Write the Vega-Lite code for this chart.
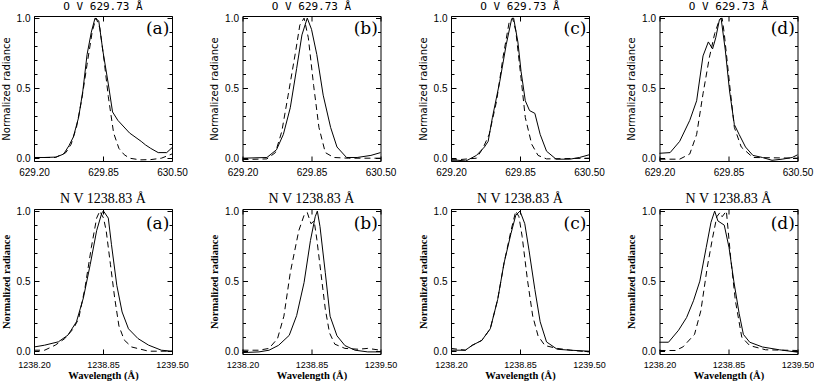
{
"$schema": "https://vega.github.io/schema/vega-lite/v6.json",
"background": "white",
"padding": {"left": 0, "top": 1, "right": 0, "bottom": 0},
"datasets": {
"ov": [
{"panel":"(a)","kind":"obs","x":629.20,"y":0.005},{"panel":"(a)","kind":"obs","x":629.30,"y":0.005},{"panel":"(a)","kind":"obs","x":629.41,"y":0.008},{"panel":"(a)","kind":"obs","x":629.48,"y":0.03},{"panel":"(a)","kind":"obs","x":629.53,"y":0.09},{"panel":"(a)","kind":"obs","x":629.57,"y":0.15},{"panel":"(a)","kind":"obs","x":629.62,"y":0.29},{"panel":"(a)","kind":"obs","x":629.66,"y":0.48},{"panel":"(a)","kind":"obs","x":629.70,"y":0.74},{"panel":"(a)","kind":"obs","x":629.74,"y":0.90},{"panel":"(a)","kind":"obs","x":629.775,"y":1.0},{"panel":"(a)","kind":"obs","x":629.81,"y":0.98},{"panel":"(a)","kind":"obs","x":629.85,"y":0.76},{"panel":"(a)","kind":"obs","x":629.90,"y":0.53},{"panel":"(a)","kind":"obs","x":629.94,"y":0.33},{"panel":"(a)","kind":"obs","x":629.99,"y":0.27},{"panel":"(a)","kind":"obs","x":630.10,"y":0.18},{"panel":"(a)","kind":"obs","x":630.21,"y":0.12},{"panel":"(a)","kind":"obs","x":630.25,"y":0.095},{"panel":"(a)","kind":"obs","x":630.30,"y":0.07},{"panel":"(a)","kind":"obs","x":630.37,"y":0.04},{"panel":"(a)","kind":"obs","x":630.45,"y":0.04},{"panel":"(a)","kind":"obs","x":630.50,"y":0.075},
{"panel":"(a)","kind":"ref","x":629.20,"y":0.005},{"panel":"(a)","kind":"ref","x":629.40,"y":0.005},{"panel":"(a)","kind":"ref","x":629.50,"y":0.04},{"panel":"(a)","kind":"ref","x":629.55,"y":0.10},{"panel":"(a)","kind":"ref","x":629.60,"y":0.22},{"panel":"(a)","kind":"ref","x":629.65,"y":0.42},{"panel":"(a)","kind":"ref","x":629.70,"y":0.67},{"panel":"(a)","kind":"ref","x":629.75,"y":0.91},{"panel":"(a)","kind":"ref","x":629.785,"y":1.0},{"panel":"(a)","kind":"ref","x":629.82,"y":0.93},{"panel":"(a)","kind":"ref","x":629.86,"y":0.70},{"panel":"(a)","kind":"ref","x":629.90,"y":0.44},{"panel":"(a)","kind":"ref","x":629.95,"y":0.18},{"panel":"(a)","kind":"ref","x":630.00,"y":0.07},{"panel":"(a)","kind":"ref","x":630.05,"y":0.025},{"panel":"(a)","kind":"ref","x":630.10,"y":0.0},{"panel":"(a)","kind":"ref","x":630.20,"y":-0.012},{"panel":"(a)","kind":"ref","x":630.30,"y":-0.01},{"panel":"(a)","kind":"ref","x":630.40,"y":0.0},{"panel":"(a)","kind":"ref","x":630.50,"y":0.03},
{"panel":"(b)","kind":"obs","x":629.20,"y":0.0},{"panel":"(b)","kind":"obs","x":629.43,"y":0.005},{"panel":"(b)","kind":"obs","x":629.52,"y":0.06},{"panel":"(b)","kind":"obs","x":629.585,"y":0.17},{"panel":"(b)","kind":"obs","x":629.65,"y":0.36},{"panel":"(b)","kind":"obs","x":629.71,"y":0.64},{"panel":"(b)","kind":"obs","x":629.76,"y":0.88},{"panel":"(b)","kind":"obs","x":629.81,"y":1.0},{"panel":"(b)","kind":"obs","x":629.85,"y":0.92},{"panel":"(b)","kind":"obs","x":629.90,"y":0.74},{"panel":"(b)","kind":"obs","x":629.96,"y":0.45},{"panel":"(b)","kind":"obs","x":630.03,"y":0.22},{"panel":"(b)","kind":"obs","x":630.09,"y":0.08},{"panel":"(b)","kind":"obs","x":630.18,"y":0.005},{"panel":"(b)","kind":"obs","x":630.28,"y":0.005},{"panel":"(b)","kind":"obs","x":630.41,"y":0.02},{"panel":"(b)","kind":"obs","x":630.50,"y":0.04},
{"panel":"(b)","kind":"ref","x":629.20,"y":-0.01},{"panel":"(b)","kind":"ref","x":629.43,"y":-0.005},{"panel":"(b)","kind":"ref","x":629.51,"y":0.04},{"panel":"(b)","kind":"ref","x":629.57,"y":0.19},{"panel":"(b)","kind":"ref","x":629.63,"y":0.45},{"panel":"(b)","kind":"ref","x":629.70,"y":0.76},{"panel":"(b)","kind":"ref","x":629.74,"y":0.95},{"panel":"(b)","kind":"ref","x":629.78,"y":1.0},{"panel":"(b)","kind":"ref","x":629.82,"y":0.86},{"panel":"(b)","kind":"ref","x":629.87,"y":0.52},{"panel":"(b)","kind":"ref","x":629.92,"y":0.22},{"panel":"(b)","kind":"ref","x":629.98,"y":0.04},{"panel":"(b)","kind":"ref","x":630.06,"y":0.005},{"panel":"(b)","kind":"ref","x":630.20,"y":0.0},{"panel":"(b)","kind":"ref","x":630.50,"y":0.0},
{"panel":"(c)","kind":"obs","x":629.20,"y":-0.01},{"panel":"(c)","kind":"obs","x":629.34,"y":-0.02},{"panel":"(c)","kind":"obs","x":629.44,"y":0.02},{"panel":"(c)","kind":"obs","x":629.515,"y":0.08},{"panel":"(c)","kind":"obs","x":629.55,"y":0.12},{"panel":"(c)","kind":"obs","x":629.59,"y":0.29},{"panel":"(c)","kind":"obs","x":629.66,"y":0.55},{"panel":"(c)","kind":"obs","x":629.72,"y":0.81},{"panel":"(c)","kind":"obs","x":629.77,"y":0.99},{"panel":"(c)","kind":"obs","x":629.79,"y":1.0},{"panel":"(c)","kind":"obs","x":629.83,"y":0.83},{"panel":"(c)","kind":"obs","x":629.86,"y":0.62},{"panel":"(c)","kind":"obs","x":629.90,"y":0.41},{"panel":"(c)","kind":"obs","x":629.94,"y":0.34},{"panel":"(c)","kind":"obs","x":629.99,"y":0.32},{"panel":"(c)","kind":"obs","x":630.04,"y":0.17},{"panel":"(c)","kind":"obs","x":630.10,"y":0.05},{"panel":"(c)","kind":"obs","x":630.19,"y":-0.007},{"panel":"(c)","kind":"obs","x":630.32,"y":-0.007},{"panel":"(c)","kind":"obs","x":630.41,"y":0.005},{"panel":"(c)","kind":"obs","x":630.50,"y":0.024},
{"panel":"(c)","kind":"ref","x":629.20,"y":-0.015},{"panel":"(c)","kind":"ref","x":629.44,"y":0.0},{"panel":"(c)","kind":"ref","x":629.50,"y":0.07},{"panel":"(c)","kind":"ref","x":629.56,"y":0.17},{"panel":"(c)","kind":"ref","x":629.63,"y":0.41},{"panel":"(c)","kind":"ref","x":629.69,"y":0.72},{"panel":"(c)","kind":"ref","x":629.75,"y":0.98},{"panel":"(c)","kind":"ref","x":629.78,"y":1.0},{"panel":"(c)","kind":"ref","x":629.81,"y":0.91},{"panel":"(c)","kind":"ref","x":629.86,"y":0.57},{"panel":"(c)","kind":"ref","x":629.90,"y":0.29},{"panel":"(c)","kind":"ref","x":629.96,"y":0.10},{"panel":"(c)","kind":"ref","x":630.02,"y":0.02},{"panel":"(c)","kind":"ref","x":630.10,"y":-0.005},{"panel":"(c)","kind":"ref","x":630.50,"y":0.0},
{"panel":"(d)","kind":"obs","x":629.20,"y":0.035},{"panel":"(d)","kind":"obs","x":629.30,"y":0.04},{"panel":"(d)","kind":"obs","x":629.39,"y":0.12},{"panel":"(d)","kind":"obs","x":629.485,"y":0.27},{"panel":"(d)","kind":"obs","x":629.55,"y":0.41},{"panel":"(d)","kind":"obs","x":629.61,"y":0.73},{"panel":"(d)","kind":"obs","x":629.66,"y":0.83},{"panel":"(d)","kind":"obs","x":629.70,"y":0.78},{"panel":"(d)","kind":"obs","x":629.73,"y":0.86},{"panel":"(d)","kind":"obs","x":629.765,"y":0.99},{"panel":"(d)","kind":"obs","x":629.78,"y":1.0},{"panel":"(d)","kind":"obs","x":629.82,"y":0.77},{"panel":"(d)","kind":"obs","x":629.86,"y":0.48},{"panel":"(d)","kind":"obs","x":629.905,"y":0.24},{"panel":"(d)","kind":"obs","x":629.95,"y":0.17},{"panel":"(d)","kind":"obs","x":630.01,"y":0.08},{"panel":"(d)","kind":"obs","x":630.08,"y":0.02},{"panel":"(d)","kind":"obs","x":630.17,"y":0.005},{"panel":"(d)","kind":"obs","x":630.26,"y":-0.015},{"panel":"(d)","kind":"obs","x":630.355,"y":-0.007},{"panel":"(d)","kind":"obs","x":630.45,"y":0.005},{"panel":"(d)","kind":"obs","x":630.50,"y":0.024},
{"panel":"(d)","kind":"ref","x":629.20,"y":-0.007},{"panel":"(d)","kind":"ref","x":629.39,"y":-0.007},{"panel":"(d)","kind":"ref","x":629.485,"y":0.03},{"panel":"(d)","kind":"ref","x":629.55,"y":0.17},{"panel":"(d)","kind":"ref","x":629.61,"y":0.46},{"panel":"(d)","kind":"ref","x":629.67,"y":0.72},{"panel":"(d)","kind":"ref","x":629.72,"y":0.89},{"panel":"(d)","kind":"ref","x":629.765,"y":0.99},{"panel":"(d)","kind":"ref","x":629.79,"y":1.0},{"panel":"(d)","kind":"ref","x":629.81,"y":0.89},{"panel":"(d)","kind":"ref","x":629.86,"y":0.53},{"panel":"(d)","kind":"ref","x":629.905,"y":0.22},{"panel":"(d)","kind":"ref","x":629.97,"y":0.08},{"panel":"(d)","kind":"ref","x":630.08,"y":0.005},{"panel":"(d)","kind":"ref","x":630.50,"y":0.0}
],
"nv": [
{"panel":"(a)","kind":"obs","x":1238.20,"y":0.03},{"panel":"(a)","kind":"obs","x":1238.30,"y":0.043},{"panel":"(a)","kind":"obs","x":1238.43,"y":0.067},{"panel":"(a)","kind":"obs","x":1238.52,"y":0.115},{"panel":"(a)","kind":"obs","x":1238.60,"y":0.21},{"panel":"(a)","kind":"obs","x":1238.665,"y":0.38},{"panel":"(a)","kind":"obs","x":1238.73,"y":0.62},{"panel":"(a)","kind":"obs","x":1238.79,"y":0.86},{"panel":"(a)","kind":"obs","x":1238.84,"y":0.99},{"panel":"(a)","kind":"obs","x":1238.855,"y":1.0},{"panel":"(a)","kind":"obs","x":1238.90,"y":0.95},{"panel":"(a)","kind":"obs","x":1238.93,"y":0.76},{"panel":"(a)","kind":"obs","x":1238.98,"y":0.47},{"panel":"(a)","kind":"obs","x":1239.03,"y":0.28},{"panel":"(a)","kind":"obs","x":1239.09,"y":0.16},{"panel":"(a)","kind":"obs","x":1239.18,"y":0.09},{"panel":"(a)","kind":"obs","x":1239.28,"y":0.043},{"panel":"(a)","kind":"obs","x":1239.40,"y":0.007},{"panel":"(a)","kind":"obs","x":1239.50,"y":0.0},
{"panel":"(a)","kind":"ref","x":1238.20,"y":0.007},{"panel":"(a)","kind":"ref","x":1238.30,"y":0.007},{"panel":"(a)","kind":"ref","x":1238.40,"y":0.043},{"panel":"(a)","kind":"ref","x":1238.49,"y":0.09},{"panel":"(a)","kind":"ref","x":1238.57,"y":0.16},{"panel":"(a)","kind":"ref","x":1238.62,"y":0.23},{"panel":"(a)","kind":"ref","x":1238.68,"y":0.45},{"panel":"(a)","kind":"ref","x":1238.74,"y":0.74},{"panel":"(a)","kind":"ref","x":1238.79,"y":0.95},{"panel":"(a)","kind":"ref","x":1238.82,"y":1.0},{"panel":"(a)","kind":"ref","x":1238.855,"y":0.95},{"panel":"(a)","kind":"ref","x":1238.88,"y":0.86},{"panel":"(a)","kind":"ref","x":1238.92,"y":0.62},{"panel":"(a)","kind":"ref","x":1238.96,"y":0.38},{"panel":"(a)","kind":"ref","x":1239.00,"y":0.18},{"panel":"(a)","kind":"ref","x":1239.05,"y":0.08},{"panel":"(a)","kind":"ref","x":1239.12,"y":0.03},{"panel":"(a)","kind":"ref","x":1239.28,"y":0.0},{"panel":"(a)","kind":"ref","x":1239.50,"y":0.0},
{"panel":"(b)","kind":"obs","x":1238.20,"y":-0.01},{"panel":"(b)","kind":"obs","x":1238.355,"y":-0.005},{"panel":"(b)","kind":"obs","x":1238.45,"y":0.007},{"panel":"(b)","kind":"obs","x":1238.54,"y":0.042},{"panel":"(b)","kind":"obs","x":1238.64,"y":0.113},{"panel":"(b)","kind":"obs","x":1238.71,"y":0.254},{"panel":"(b)","kind":"obs","x":1238.78,"y":0.49},{"panel":"(b)","kind":"obs","x":1238.84,"y":0.79},{"panel":"(b)","kind":"obs","x":1238.885,"y":0.96},{"panel":"(b)","kind":"obs","x":1238.905,"y":1.0},{"panel":"(b)","kind":"obs","x":1238.93,"y":0.89},{"panel":"(b)","kind":"obs","x":1238.98,"y":0.56},{"panel":"(b)","kind":"obs","x":1239.025,"y":0.25},{"panel":"(b)","kind":"obs","x":1239.09,"y":0.11},{"panel":"(b)","kind":"obs","x":1239.165,"y":0.04},{"panel":"(b)","kind":"obs","x":1239.26,"y":0.007},{"panel":"(b)","kind":"obs","x":1239.38,"y":-0.005},{"panel":"(b)","kind":"obs","x":1239.50,"y":-0.005},
{"panel":"(b)","kind":"ref","x":1238.20,"y":0.007},{"panel":"(b)","kind":"ref","x":1238.355,"y":0.007},{"panel":"(b)","kind":"ref","x":1238.45,"y":0.02},{"panel":"(b)","kind":"ref","x":1238.53,"y":0.09},{"panel":"(b)","kind":"ref","x":1238.59,"y":0.25},{"panel":"(b)","kind":"ref","x":1238.65,"y":0.56},{"panel":"(b)","kind":"ref","x":1238.73,"y":0.86},{"panel":"(b)","kind":"ref","x":1238.78,"y":0.97},{"panel":"(b)","kind":"ref","x":1238.81,"y":0.99},{"panel":"(b)","kind":"ref","x":1238.845,"y":0.91},{"panel":"(b)","kind":"ref","x":1238.875,"y":0.93},{"panel":"(b)","kind":"ref","x":1238.90,"y":0.80},{"panel":"(b)","kind":"ref","x":1238.94,"y":0.55},{"panel":"(b)","kind":"ref","x":1238.98,"y":0.30},{"panel":"(b)","kind":"ref","x":1239.02,"y":0.13},{"panel":"(b)","kind":"ref","x":1239.07,"y":0.05},{"panel":"(b)","kind":"ref","x":1239.165,"y":0.02},{"panel":"(b)","kind":"ref","x":1239.29,"y":0.014},{"panel":"(b)","kind":"ref","x":1239.38,"y":0.02},{"panel":"(b)","kind":"ref","x":1239.50,"y":0.007},
{"panel":"(c)","kind":"obs","x":1238.20,"y":0.007},{"panel":"(c)","kind":"obs","x":1238.335,"y":0.007},{"panel":"(c)","kind":"obs","x":1238.40,"y":0.042},{"panel":"(c)","kind":"obs","x":1238.49,"y":0.077},{"panel":"(c)","kind":"obs","x":1238.57,"y":0.16},{"panel":"(c)","kind":"obs","x":1238.64,"y":0.37},{"panel":"(c)","kind":"obs","x":1238.70,"y":0.63},{"panel":"(c)","kind":"obs","x":1238.765,"y":0.84},{"panel":"(c)","kind":"obs","x":1238.81,"y":0.97},{"panel":"(c)","kind":"obs","x":1238.85,"y":1.0},{"panel":"(c)","kind":"obs","x":1238.895,"y":0.91},{"panel":"(c)","kind":"obs","x":1238.935,"y":0.72},{"panel":"(c)","kind":"obs","x":1238.99,"y":0.44},{"panel":"(c)","kind":"obs","x":1239.04,"y":0.21},{"panel":"(c)","kind":"obs","x":1239.10,"y":0.066},{"panel":"(c)","kind":"obs","x":1239.20,"y":0.014},{"panel":"(c)","kind":"obs","x":1239.325,"y":0.007},{"panel":"(c)","kind":"obs","x":1239.50,"y":0.0},
{"panel":"(c)","kind":"ref","x":1238.20,"y":0.02},{"panel":"(c)","kind":"ref","x":1238.335,"y":0.007},{"panel":"(c)","kind":"ref","x":1238.40,"y":0.042},{"panel":"(c)","kind":"ref","x":1238.49,"y":0.077},{"panel":"(c)","kind":"ref","x":1238.57,"y":0.16},{"panel":"(c)","kind":"ref","x":1238.64,"y":0.37},{"panel":"(c)","kind":"ref","x":1238.70,"y":0.63},{"panel":"(c)","kind":"ref","x":1238.765,"y":0.86},{"panel":"(c)","kind":"ref","x":1238.81,"y":1.0},{"panel":"(c)","kind":"ref","x":1238.84,"y":0.96},{"panel":"(c)","kind":"ref","x":1238.87,"y":0.82},{"panel":"(c)","kind":"ref","x":1238.92,"y":0.51},{"panel":"(c)","kind":"ref","x":1238.97,"y":0.25},{"panel":"(c)","kind":"ref","x":1239.02,"y":0.11},{"panel":"(c)","kind":"ref","x":1239.085,"y":0.04},{"panel":"(c)","kind":"ref","x":1239.20,"y":0.02},{"panel":"(c)","kind":"ref","x":1239.35,"y":0.005},{"panel":"(c)","kind":"ref","x":1239.50,"y":-0.005},
{"panel":"(d)","kind":"obs","x":1238.20,"y":0.064},{"panel":"(d)","kind":"obs","x":1238.285,"y":0.064},{"panel":"(d)","kind":"obs","x":1238.38,"y":0.15},{"panel":"(d)","kind":"obs","x":1238.455,"y":0.24},{"panel":"(d)","kind":"obs","x":1238.52,"y":0.36},{"panel":"(d)","kind":"obs","x":1238.58,"y":0.50},{"panel":"(d)","kind":"obs","x":1238.64,"y":0.74},{"panel":"(d)","kind":"obs","x":1238.685,"y":0.92},{"panel":"(d)","kind":"obs","x":1238.72,"y":1.0},{"panel":"(d)","kind":"obs","x":1238.75,"y":0.93},{"panel":"(d)","kind":"obs","x":1238.81,"y":0.90},{"panel":"(d)","kind":"obs","x":1238.855,"y":0.74},{"panel":"(d)","kind":"obs","x":1238.90,"y":0.50},{"panel":"(d)","kind":"obs","x":1238.95,"y":0.27},{"panel":"(d)","kind":"obs","x":1238.99,"y":0.12},{"panel":"(d)","kind":"obs","x":1239.05,"y":0.064},{"panel":"(d)","kind":"obs","x":1239.17,"y":0.03},{"panel":"(d)","kind":"obs","x":1239.33,"y":0.01},{"panel":"(d)","kind":"obs","x":1239.50,"y":-0.007},
{"panel":"(d)","kind":"ref","x":1238.20,"y":0.005},{"panel":"(d)","kind":"ref","x":1238.35,"y":0.005},{"panel":"(d)","kind":"ref","x":1238.42,"y":0.03},{"panel":"(d)","kind":"ref","x":1238.53,"y":0.12},{"panel":"(d)","kind":"ref","x":1238.59,"y":0.29},{"panel":"(d)","kind":"ref","x":1238.65,"y":0.60},{"panel":"(d)","kind":"ref","x":1238.70,"y":0.81},{"panel":"(d)","kind":"ref","x":1238.74,"y":0.96},{"panel":"(d)","kind":"ref","x":1238.77,"y":0.99},{"panel":"(d)","kind":"ref","x":1238.79,"y":0.96},{"panel":"(d)","kind":"ref","x":1238.83,"y":1.0},{"panel":"(d)","kind":"ref","x":1238.87,"y":0.67},{"panel":"(d)","kind":"ref","x":1238.915,"y":0.36},{"panel":"(d)","kind":"ref","x":1238.975,"y":0.10},{"panel":"(d)","kind":"ref","x":1239.05,"y":0.04},{"panel":"(d)","kind":"ref","x":1239.20,"y":0.01},{"panel":"(d)","kind":"ref","x":1239.50,"y":0.005}
]
},
"spacing": 14,
"vconcat": [
{
"data": {"name": "ov"},
"facet": {"column": {"field": "panel", "type": "nominal", "title": null,
  "header": {"labelExpr": "'O V 629.73 Å'", "labelFont": "DejaVu Sans Mono", "labelFontSize": 11, "labelColor": "black", "labelPadding": 4}}},
"spacing": 70.5,
"bounds": "flush",
"resolve": {"axis": {"x": "independent", "y": "independent"}},
"spec": {
  "width": 138, "height": 145,
  "resolve": {"axis": {"x": "independent", "y": "independent"}},
  "layer": [
    {"transform": [{"filter": "datum.kind === 'obs'"}],
     "mark": {"type": "line", "color": "black", "strokeWidth": 1},
     "encoding": {
       "x": {"field": "x", "type": "quantitative", "scale": {"domain": [629.2, 630.5], "nice": false, "zero": false},
         "axis": {"orient": "bottom", "values": [629.2, 629.85, 630.5], "format": ".2f", "labelFlush": false, "labelOverlap": false, "labelBound": false, "tickSize": -5, "labelPadding": 11, "domain": false, "grid": false, "title": null, "labelFont": "Liberation Sans", "labelFontSize": 10, "labelColor": "black", "tickColor": "black"}},
       "y": {"field": "y", "type": "quantitative", "scale": {"domain": [-0.02, 1.015], "nice": false, "zero": false},
         "axis": {"orient": "left", "values": [0, 0.1, 0.2, 0.3, 0.4, 0.5, 0.6, 0.7, 0.8, 0.9, 1], "labelExpr": "(datum.value == 0 || datum.value == 0.5 || datum.value == 1) ? format(datum.value, '.1f') : ''", "tickSize": {"condition": {"test": "datum.value == 0 || datum.value == 0.5 || datum.value == 1", "value": -5}, "value": -3}, "labelPadding": 9, "labelOverlap": false, "domain": false, "grid": false, "title": "Normalized radiance", "titleFont": "DejaVu Sans", "titleFontSize": 10, "titleFontWeight": "normal", "titlePadding": 5, "titleColor": "black", "labelFont": "Liberation Sans", "labelFontSize": 10, "labelColor": "black", "tickColor": "black"}}
     }},
    {"transform": [{"filter": "datum.kind === 'ref'"}],
     "mark": {"type": "line", "color": "black", "strokeWidth": 1, "strokeDash": [6, 4]},
     "encoding": {
       "x": {"field": "x", "type": "quantitative", "scale": {"domain": [629.2, 630.5], "nice": false, "zero": false},
         "axis": {"orient": "top", "values": [629.2, 629.85, 630.5], "labels": false, "tickSize": -5, "domain": false, "grid": false, "title": null, "tickColor": "black"}},
       "y": {"field": "y", "type": "quantitative", "scale": {"domain": [-0.02, 1.015], "nice": false, "zero": false},
         "axis": {"orient": "right", "values": [0, 0.1, 0.2, 0.3, 0.4, 0.5, 0.6, 0.7, 0.8, 0.9, 1], "labels": false, "tickSize": {"condition": {"test": "datum.value == 0 || datum.value == 0.5 || datum.value == 1", "value": -5}, "value": -3}, "domain": false, "grid": false, "title": null, "tickColor": "black"}}
     }},
    {"transform": [{"filter": "datum.kind === 'obs'"}, {"aggregate": [{"op": "count", "as": "n"}], "groupby": ["panel"]}],
     "mark": {"type": "text", "font": "DejaVu Serif", "fontSize": 17, "align": "right", "baseline": "middle", "color": "black"},
     "encoding": {
       "x": {"datum": 630.475, "type": "quantitative", "axis": null},
       "y": {"datum": 0.925, "type": "quantitative", "axis": null},
       "text": {"field": "panel", "type": "nominal"}
     }}
  ]
}
},
{
"data": {"name": "nv"},
"facet": {"column": {"field": "panel", "type": "nominal", "title": null,
  "header": {"labelExpr": "'N V 1238.83 Å'", "labelFont": "Liberation Serif", "labelFontSize": 14, "labelColor": "black", "labelPadding": 3}}},
"spacing": 70.5,
"bounds": "flush",
"resolve": {"axis": {"x": "independent", "y": "independent"}},
"spec": {
  "width": 138, "height": 145,
  "resolve": {"axis": {"x": "independent", "y": "independent"}},
  "layer": [
    {"transform": [{"filter": "datum.kind === 'obs'"}],
     "mark": {"type": "line", "color": "black", "strokeWidth": 1},
     "encoding": {
       "x": {"field": "x", "type": "quantitative", "scale": {"domain": [1238.2, 1239.5], "nice": false, "zero": false},
         "axis": {"orient": "bottom", "values": [1238.2, 1238.85, 1239.5], "format": ".2f", "labelFlush": false, "labelOverlap": false, "labelBound": false, "tickSize": -5, "labelPadding": 11, "domain": false, "grid": false, "title": "Wavelength (Å)", "titleFont": "Liberation Serif", "titleFontSize": 10.5, "titleFontWeight": "bold", "titlePadding": 1, "titleColor": "black", "labelFont": "Liberation Sans", "labelFontSize": 9, "labelColor": "black", "tickColor": "black"}},
       "y": {"field": "y", "type": "quantitative", "scale": {"domain": [-0.02, 1.015], "nice": false, "zero": false},
         "axis": {"orient": "left", "values": [0, 0.1, 0.2, 0.3, 0.4, 0.5, 0.6, 0.7, 0.8, 0.9, 1], "labelExpr": "(datum.value == 0 || datum.value == 0.5 || datum.value == 1) ? format(datum.value, '.1f') : ''", "tickSize": {"condition": {"test": "datum.value == 0 || datum.value == 0.5 || datum.value == 1", "value": -5}, "value": -3}, "labelPadding": 9, "labelOverlap": false, "domain": false, "grid": false, "title": "Normalized radiance", "titleFont": "Liberation Serif", "titleFontSize": 10.5, "titleFontWeight": "bold", "titlePadding": 5, "titleColor": "black", "labelFont": "Liberation Sans", "labelFontSize": 10, "labelColor": "black", "tickColor": "black"}}
     }},
    {"transform": [{"filter": "datum.kind === 'ref'"}],
     "mark": {"type": "line", "color": "black", "strokeWidth": 1, "strokeDash": [6, 4]},
     "encoding": {
       "x": {"field": "x", "type": "quantitative", "scale": {"domain": [1238.2, 1239.5], "nice": false, "zero": false},
         "axis": {"orient": "top", "values": [1238.2, 1238.85, 1239.5], "labels": false, "tickSize": -5, "domain": false, "grid": false, "title": null, "tickColor": "black"}},
       "y": {"field": "y", "type": "quantitative", "scale": {"domain": [-0.02, 1.015], "nice": false, "zero": false},
         "axis": {"orient": "right", "values": [0, 0.1, 0.2, 0.3, 0.4, 0.5, 0.6, 0.7, 0.8, 0.9, 1], "labels": false, "tickSize": {"condition": {"test": "datum.value == 0 || datum.value == 0.5 || datum.value == 1", "value": -5}, "value": -3}, "domain": false, "grid": false, "title": null, "tickColor": "black"}}
     }},
    {"transform": [{"filter": "datum.kind === 'obs'"}, {"aggregate": [{"op": "count", "as": "n"}], "groupby": ["panel"]}],
     "mark": {"type": "text", "font": "DejaVu Serif", "fontSize": 17, "align": "right", "baseline": "middle", "color": "black"},
     "encoding": {
       "x": {"datum": 1239.475, "type": "quantitative", "axis": null},
       "y": {"datum": 0.91, "type": "quantitative", "axis": null},
       "text": {"field": "panel", "type": "nominal"}
     }}
  ]
}
}
],
"config": {
  "view": {"stroke": "black", "strokeWidth": 1},
  "axis": {"grid": false, "tickColor": "black", "labelColor": "black", "titleColor": "black"}
}
}
